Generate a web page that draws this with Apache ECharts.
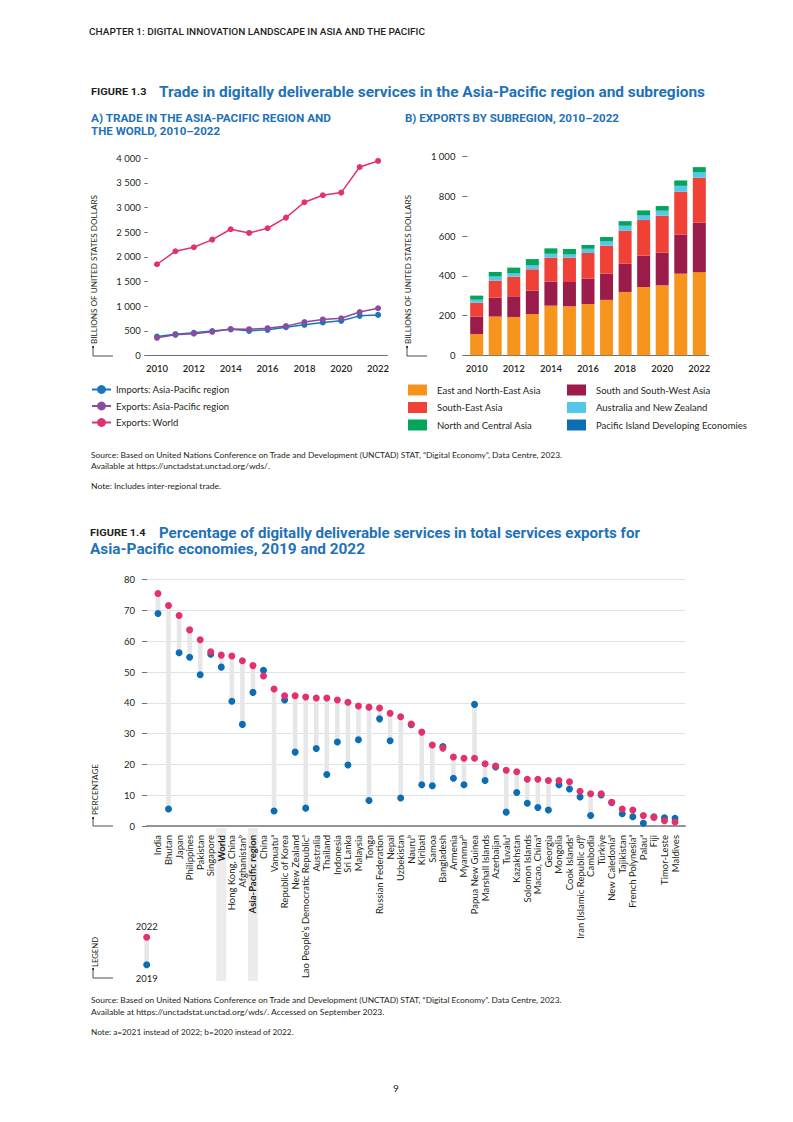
<!DOCTYPE html>
<html><head><meta charset="utf-8">
<script src="https://cdn.jsdelivr.net/npm/echarts@6.0.0/dist/echarts.min.js"></script>
<style>
html,body{margin:0;padding:0;background:#fff;}
body{width:793px;height:1122px;position:relative;overflow:hidden;}
.t{position:absolute;white-space:nowrap;}
#chart{position:absolute;left:0;top:0;width:793px;height:1122px;}
</style></head>
<body>
<div id="chart"></div>
<script>
// ---------- DATA ----------
const years = ['2010','2011','2012','2013','2014','2015','2016','2017','2018','2019','2020','2021','2022'];
const importsAP    = [385,432,462,497,530,500,520,574,622,669,703,804,824];
const exportsAP    = [358,419,443,481,536,533,554,596,678,732,755,882,958];
const exportsWorld = [1851,2115,2196,2351,2561,2486,2581,2797,3108,3250,3304,3824,3946];

const eastNE     = [107,195,193,208,250,247,258,279,319,344,352,411,419];
const southSW    = [88,95,104,118,121,122,128,132,142,158,165,196,249];
const southEast  = [70,86,99,107,121,123,129,141,167,179,186,217,226];
const ausNZ      = [14,20,17,20,18,16,20,22,23,24,24,28,27];
const pacificIsl = [1.5,1.5,1.5,1.5,1.5,1.5,1.5,1.5,1.5,1.5,1.5,1.5,1.5];
const northCA    = [20,22,27,30,27,26,19,20,23,23,23,27,25];

const economies = ['India','Bhutan','Japan','Philippines','Pakistan','Singapore','World','Hong Kong, China','Afghanistanᵇ','Asia-Pacific region','China','Vanuatuᵃ','Republic of Korea','New Zealand','Lao People’s Democratic Republicᵃ','Australia','Thailand','Indonesia','Sri Lanka','Malaysia','Tonga','Russian Federation','Nepal','Uzbekistan','Nauruᵇ','Kiribati','Samoa','Bangladesh','Armenia','Myanmarᵇ','Papua New Guinea','Marshall Islands','Azerbaijan','Tuvaluᵃ','Kazakhstan','Solomon Islands','Macao, Chinaᵃ','Georgia','Mongolia','Cook Islandsᵃ','Iran (Islamic Republic of)ᵇ','Cambodia','Türkiye','New Caledoniaᵃ','Tajikistan','French Polynesiaᵃ','Palauᵃ','Fiji','Timor-Leste','Maldives'];
const pct2022 = [75.5,71.6,68.4,63.7,60.5,56.6,55.5,55.2,53.7,52.1,48.7,44.5,42.3,42.3,41.9,41.6,41.6,40.9,40.2,39.0,38.6,38.3,36.6,35.5,33.1,30.5,26.3,25.3,22.4,22.0,22.0,20.2,19.5,18.1,17.6,15.2,15.2,14.8,14.8,14.4,11.3,10.5,10.5,7.7,5.5,5.2,3.4,2.8,1.7,1.3];
const pct2019 = [69.0,5.5,56.3,54.8,49.1,55.8,51.6,40.5,33.0,43.4,50.6,4.9,40.9,24.0,5.8,25.2,16.7,27.3,19.8,28.0,8.3,34.8,27.7,9.1,32.9,13.4,13.1,25.8,15.5,13.4,39.5,14.8,19.2,4.5,10.9,7.4,6.0,5.2,13.4,12.0,9.4,3.4,10.1,7.6,4.0,3.0,0.9,3.0,2.7,2.5];
const highlighted = ['World','Asia-Pacific region'];

// ---------- STYLE ----------
const H = 'Roboto, "DejaVu Sans", sans-serif';
const B = 'Lato, "Open Sans", sans-serif';
const INK = '#231f20';
const BLUE_T = '#1f72b8';
const C = {imp:'#1b75bc', expAP:'#8a4c9e', world:'#e3316b', e:'#f7941d', s:'#9b1c4b', se:'#ef4136', anz:'#55c8ea', pi:'#0b6db3', nc:'#03a55c', dot19:'#0b6db3', dot22:'#e3316b', conn:'#e6e7e8'};

// ---------- STATIC TEXT ----------
const texts = [
 {t:'CHAPTER 1: DIGITAL INNOVATION LANDSCAPE IN ASIA AND THE PACIFIC', x:89, y:32, s:9, w:336, f:H, wt:500, c:INK},
 {t:'FIGURE 1.3', x:90.5, y:92, s:9.5, w:55.5, f:H, wt:700, c:INK},
 {t:'Trade in digitally deliverable services in the Asia-Pacific region and subregions', x:158.8, y:92, s:15, w:546, f:H, wt:700, c:BLUE_T},
 {t:'A) TRADE IN THE ASIA-PACIFIC REGION AND', x:91, y:119, s:10.5, w:240, f:H, wt:700, c:BLUE_T},
 {t:'THE WORLD, 2010–2022', x:91, y:132, s:10.5, w:129, f:H, wt:700, c:BLUE_T},
 {t:'B) EXPORTS BY SUBREGION, 2010–2022', x:404.5, y:119, s:10.5, w:214, f:H, wt:700, c:BLUE_T},
 {t:'BILLIONS OF UNITED STATES DOLLARS', x:94, y:344, s:8, w:149, f:B, wt:400, c:INK, rot:true},
 {t:'BILLIONS OF UNITED STATES DOLLARS', x:408.3, y:344, s:8, w:149, f:B, wt:400, c:INK, rot:true},
 {t:'Source: Based on United Nations Conference on Trade and Development (UNCTAD) STAT, “Digital Economy”, Data Centre, 2023.', x:91, y:455, s:8.3, w:471, f:B, wt:400, c:INK},
 {t:'Available at https://unctadstat.unctad.org/wds/.', x:91, y:466, s:8.3, w:179, f:B, wt:400, c:INK},
 {t:'Note: Includes inter-regional trade.', x:91, y:486, s:8.3, w:130, f:B, wt:400, c:INK},
 {t:'FIGURE 1.4', x:90, y:533, s:9.5, w:55.5, f:H, wt:700, c:INK},
 {t:'Percentage of digitally deliverable services in total services exports for', x:158.8, y:533, s:15, w:481, f:H, wt:700, c:BLUE_T},
 {t:'Asia-Pacific economies, 2019 and 2022', x:90, y:549, s:15, w:275, f:H, wt:700, c:BLUE_T},
 {t:'PERCENTAGE', x:95, y:815, s:8, w:51, f:B, wt:400, c:INK, rot:true},
 {t:'LEGEND', x:95, y:966.7, s:8, w:30, f:B, wt:400, c:INK, rot:true},
 {t:'2022', x:146.7, y:926.7, s:9.5, f:B, wt:400, c:INK, center:true},
 {t:'2019', x:146.7, y:979, s:9.5, f:B, wt:400, c:INK, center:true},
 {t:'Source: Based on United Nations Conference on Trade and Development (UNCTAD) STAT, “Digital Economy”. Data Centre, 2023.', x:90.7, y:1000, s:8.3, w:470.5, f:B, wt:400, c:INK},
 {t:'Available at https://unctadstat.unctad.org/wds/. Accessed on September 2023.', x:90.7, y:1011.7, s:8.3, w:293.3, f:B, wt:400, c:INK},
 {t:'Note: a=2021 instead of 2022; b=2020 instead of 2022.', x:90.7, y:1031.7, s:8.3, w:202.6, f:B, wt:400, c:INK},
 {t:'9', x:396, y:1088, s:10, f:B, wt:400, c:INK, center:true}
];
function placeText(o){
  const d = document.createElement('div');
  d.className = 't';
  d.textContent = o.t;
  d.style.fontFamily = o.f; d.style.fontSize = o.s + 'px'; d.style.fontWeight = o.wt;
  d.style.color = o.c; d.style.lineHeight = o.s + 'px';
  d.style.top = (o.y - o.s/2) + 'px';
  document.body.appendChild(d);
  const w = d.getBoundingClientRect().width;
  const k = o.w ? o.w / w : 1;
  d.style.left = (o.center ? o.x - w/2 : o.x) + 'px';
  d.style.transformOrigin = '0 50%';
  d.style.transform = (o.rot ? 'rotate(-90deg) ' : '') + 'scaleX(' + k + ')';
}
texts.forEach(placeText);

// ---------- CHART ----------
const chart = echarts.init(document.getElementById('chart'), null, {renderer:'svg', width:793, height:1122});
const thou = v => String(v).replace(/\B(?=(\d{3})+(?!\d))/g, ' ');
const axLbl = {fontFamily:B, fontSize:9.5, color:INK};

function yearAxis(gi){
  return {gridIndex:gi, type:'category', data:years, boundaryGap:true,
    axisLine:{lineStyle:{color:'#6d6e71', width:1}},
    axisTick:{alignWithLabel:true, interval:0, length:3, lineStyle:{color:'#6d6e71'}},
    axisLabel:Object.assign({interval:1, margin:8, fontWeight:600}, axLbl)};
}
function valAxis(gi, max, step, tickLen, margin, split){
  return {gridIndex:gi, type:'value', min:0, max:max, interval:step,
    axisLine:{show:false},
    axisTick:{show:true, length:tickLen, lineStyle:{color:'#6d6e71'}},
    splitLine: split ? {show:true, lineStyle:{color:'#e1e2e3', width:1}} : {show:false},
    axisLabel:Object.assign({formatter:thou, margin:margin}, axLbl)};
}

const bar = (name, data, color) => ({name, type:'bar', stack:'exp', xAxisIndex:1, yAxisIndex:1, data, barWidth:13, itemStyle:{color}, emphasis:{disabled:true}});
const line = (name, data, color) => ({name, type:'line', xAxisIndex:0, yAxisIndex:0, data, symbol:'circle', symbolSize:6, itemStyle:{color}, lineStyle:{color, width:1.5}, emphasis:{disabled:true}});
const legendBase = {top:384.5, orient:'vertical', padding:0, itemWidth:19, itemHeight:11, itemGap:6.5, selectedMode:false};

const option = {
  animation:false,
  textStyle:{fontFamily:B},
  grid:[
    {left:147.8, top:158.3, width:239.5, height:197.2},
    {left:467.4, top:156.7, width:241.2, height:198.6},
    {left:147, top:579.7, width:538, height:246.3},
    {left:152.7, top:579.7, width:527.6, height:246.3}
  ],
  xAxis:[
    yearAxis(0), yearAxis(1),
    {gridIndex:2, type:'value', min:0, max:1, axisLine:{show:true, onZero:false, lineStyle:{color:'#939598', width:2}}, axisTick:{show:false}, axisLabel:{show:false}, splitLine:{show:false}},
    {gridIndex:3, type:'category', data:economies, boundaryGap:true, axisLine:{show:false}, axisTick:{show:false},
      axisLabel:Object.assign({interval:0, rotate:90, margin:9,
        formatter: v => highlighted.includes(v) ? '{b|' + v + '}' : v,
        rich:{b:{fontFamily:B, fontSize:9.5, fontWeight:'bold', color:INK}}}, axLbl)}
  ],
  yAxis:[
    valAxis(0, 4000, 500, 3.5, 7, false),
    valAxis(1, 1000, 200, 5, 12, false),
    valAxis(2, 80, 10, 5, 12, true),
    {gridIndex:3, type:'value', min:0, max:80, show:false}
  ],
  legend:[
    Object.assign({left:91,
      data:['Imports: Asia-Pacific region','Exports: Asia-Pacific region','Exports: World'],
      textStyle:{fontFamily:B, fontSize:9.5, color:INK}}, legendBase),
    Object.assign({left:408, icon:'rect',
      data:['East and North-East Asia','South-East Asia','North and Central Asia'],
      textStyle:{fontFamily:B, fontSize:9.5, color:INK, padding:[0,0,0,5]}}, legendBase),
    Object.assign({left:567, icon:'rect',
      data:['South and South-West Asia','Australia and New Zealand','Pacific Island Developing Economies'],
      textStyle:{fontFamily:B, fontSize:9.5, color:INK, padding:[0,0,0,5]}}, legendBase)
  ],
  series:[
    line('Imports: Asia-Pacific region', importsAP, C.imp),
    line('Exports: Asia-Pacific region', exportsAP, C.expAP),
    line('Exports: World', exportsWorld, C.world),
    bar('East and North-East Asia', eastNE, C.e),
    bar('South and South-West Asia', southSW, C.s),
    bar('South-East Asia', southEast, C.se),
    bar('Australia and New Zealand', ausNZ, C.anz),
    bar('Pacific Island Developing Economies', pacificIsl, C.pi),
    bar('North and Central Asia', northCA, C.nc),
    {type:'custom', xAxisIndex:3, yAxisIndex:3, silent:true,
      data: economies.map((e,i) => [i, pct2019[i], pct2022[i]]),
      renderItem:(params, api) => {
        const a = api.coord([api.value(0), api.value(1)]);
        const b = api.coord([api.value(0), api.value(2)]);
        const top = Math.min(a[1], b[1]), h = Math.abs(a[1]-b[1]);
        return {type:'rect', shape:{x:a[0]-2.3, y:top, width:4.6, height:h}, style:{fill:C.conn}};
      }, z:1},
    {name:'2019', type:'scatter', xAxisIndex:3, yAxisIndex:3, data:pct2019, symbolSize:7, itemStyle:{color:C.dot19, opacity:1}, z:2, emphasis:{disabled:true}},
    {name:'2022', type:'scatter', xAxisIndex:3, yAxisIndex:3, data:pct2022, symbolSize:7, itemStyle:{color:C.dot22, opacity:1}, z:3, emphasis:{disabled:true}}
  ]
};
chart.setOption(option);

// ---------- DECORATIONS (brackets, legend key, highlight bands) ----------
const bracket = (x, y0, y1, x1) => ({type:'polyline', shape:{points:[[x,y0],[x,y1],[x1,y1]]}, style:{stroke:'#231f20', lineWidth:0.8, fill:null}, silent:true});
const tip = (x, y) => ({type:'circle', shape:{cx:x, cy:y, r:1}, style:{fill:'#231f20'}, silent:true});
const gfx = [
  bracket(93, 347, 356, 113), tip(93, 347),
  bracket(407, 347, 356, 427), tip(407, 347),
  bracket(93, 818, 826, 113), tip(93, 818),
  bracket(93, 969, 978, 113), tip(93, 969),
  {type:'rect', shape:{x:144.4, y:937.3, width:4.6, height:27.4}, style:{fill:C.conn}, silent:true},
  {type:'circle', shape:{cx:146.7, cy:937.3, r:3.5}, style:{fill:C.dot22}, silent:true},
  {type:'circle', shape:{cx:146.7, cy:964.7, r:3.5}, style:{fill:C.dot19}, silent:true}
];
highlighted.forEach(name => {
  const px = chart.convertToPixel({xAxisIndex:3}, name);
  gfx.push({type:'rect', z:-10, shape:{x:px-5, y:828, width:10, height:153}, style:{fill:'#ececed'}, silent:true});
});
chart.setOption({graphic:gfx});
</script>
</body></html>
